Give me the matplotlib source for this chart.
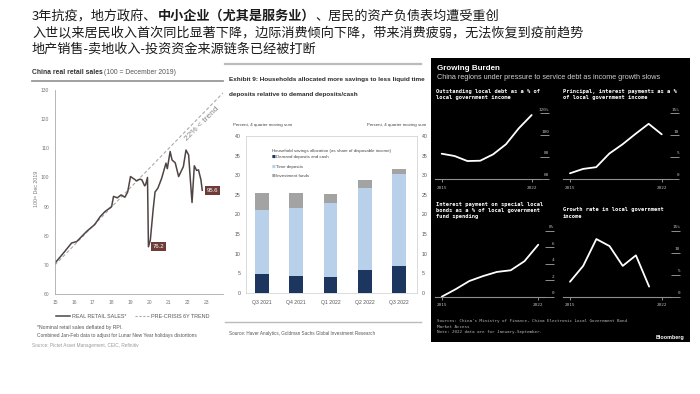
import matplotlib
matplotlib.use('Agg')
import matplotlib.pyplot as plt
from matplotlib import font_manager as fm
from matplotlib.transforms import blended_transform_factory, ScaledTranslation
from matplotlib.patches import Rectangle
from matplotlib.lines import Line2D

# ---------------- data ----------------
retail_x = [15.0, 15.44, 15.88, 16.15, 16.68, 17.1, 17.4, 17.65, 17.8, 18.0, 18.1, 18.3,
            18.5, 18.7, 18.85, 19.0, 19.25, 19.3, 19.5, 19.6, 19.75, 19.8, 19.9, 19.95,
            20.05, 20.2, 20.3, 20.45, 20.65, 20.88, 20.95, 21.1, 21.2, 21.37, 21.55, 21.63,
            21.8, 21.94, 22.08, 22.17, 22.26, 22.38, 22.5, 22.6, 22.73, 22.8]
retail_y = [70.6, 74.0, 77.5, 78.0, 81.5, 83.8, 86.6, 88.3, 89.0, 90.0, 93.5, 93.0,
            94.0, 93.2, 95.0, 100.3, 99.2, 98.8, 99.4, 99.2, 97.1, 97.5, 100.0, 76.2,
            78.5, 89.0, 95.0, 96.3, 99.7, 104.9, 103.0, 108.9, 106.0, 105.0, 100.3, 101.4,
            103.7, 109.4, 107.7, 99.2, 91.4, 104.0, 102.4, 102.6, 99.2, 95.6]
trend_x = [15.0, 23.9]
trend_y = [70.0, 129.0]
retail_xticks = [15, 16, 17, 18, 19, 20, 21, 22, 23]
retail_yticks = [60, 70, 80, 90, 100, 110, 120, 130]
retail_low = 76.2
retail_last = 95.6

gs_quarters = ['Q3 2021', 'Q4 2021', 'Q1 2022', 'Q2 2022', 'Q3 2022']
gs_demand = [4.7, 4.2, 4.0, 5.7, 6.8]
gs_time = [16.3, 17.3, 18.8, 21.0, 23.6]
gs_funds = [4.4, 3.9, 2.5, 2.0, 1.2]
gs_yticks = [0, 5, 10, 15, 20, 25, 30, 35, 40]

bb_years = [2015, 2016, 2017, 2018, 2019, 2020, 2021, 2022]
bb_debt = [83.1, 81.0, 76.4, 76.7, 82.5, 91.7, 106.3, 118.4]
bb_payments = [1.3, 2.3, 2.7, 5.8, 7.9, 10.3, 12.6, 10.2]
bb_special = [0.0, 0.9, 1.9, 2.5, 3.0, 3.2, 4.3, 6.3]
bb_growth_years = [2015, 2016, 2017, 2018, 2019, 2020, 2021]
bb_growth = [3.4, 7.0, 13.1, 11.5, 7.0, 9.4, 2.3]

# ---------------- setup ----------------
W, H = 700, 394
fig = plt.figure(figsize=(7, 3.94), dpi=100)
fig.patch.set_facecolor('white')
renderer = fig.canvas.get_renderer()

names = {f.name for f in fm.fontManager.ttflist}
NARROW = 'Liberation Sans Narrow' if 'Liberation Sans Narrow' in names else 'Liberation Sans'
SANS = 'Liberation Sans'
MONO = 'DejaVu Sans Mono'
CJK = ['Noto Sans CJK SC', 'DejaVu Sans']


def rect(x0, y0, x1, y1):
    return [x0 / W, 1 - y1 / H, (x1 - x0) / W, (y1 - y0) / H]


def ftxt(x, y, s, **kw):
    kw.setdefault('va', 'center')
    kw.setdefault('ha', 'left')
    return fig.text(x / W, 1 - y / H, s, **kw)


def fit(t, width_px):
    bb = t.get_window_extent(renderer)
    t.set_fontsize(t.get_fontsize() * width_px / bb.width)
    return t


def hrule(x0, x1, y, color, lw):
    fig.add_artist(Line2D([x0 / W, x1 / W], [1 - y / H, 1 - y / H],
                          transform=fig.transFigure, color=color, lw=lw))


# ---------------- Chinese header ----------------
x = 32
for s, w in [("3年抗疫，地方政府、", 'normal'), ("中小企业（尤其是服务业）", 'bold'),
             ("、居民的资产负债表均遭受重创", 'normal')]:
    t = ftxt(x, 16, s, family=CJK, fontsize=9.45, fontweight=w, color='#1a1a1a')
    x += t.get_window_extent(renderer).width
ftxt(32, 33, "入世以来居民收入首次同比显著下降，边际消费倾向下降，带来消费疲弱，无法恢复到疫前趋势",
     family=CJK, fontsize=9.45, color='#1a1a1a')
ftxt(32, 49, "地产销售-卖地收入-投资资金来源链条已经被打断", family=CJK, fontsize=9.45, color='#1a1a1a')

# ---------------- Left chart (Pictet) ----------------
t1 = fit(ftxt(32, 73, "China real retail sales", family=NARROW, fontweight='bold',
              fontsize=6, color='#333333'), 71)
ftxt(32 + t1.get_window_extent(renderer).width + 1.5, 73, "(100 = December 2019)",
     family=NARROW, fontsize=t1.get_fontsize(), color='#555555')
hrule(32, 223, 80.7, '#999999', 1.3)

axL = fig.add_axes(rect(55, 90, 223, 294))
axL.plot(trend_x, trend_y, color='#aaaaaa', lw=0.8, ls=(0, (3, 2)))
axL.plot(retail_x, retail_y, color='#4f4444', lw=1.1)
axL.set_xlim(15, 23.9)
axL.set_ylim(60, 130)
axL.set_xticks(retail_xticks)
axL.set_yticks(retail_yticks)
axL.set_xticklabels([str(v) for v in retail_xticks])
for s in ['top', 'right']:
    axL.spines[s].set_visible(False)
for s in ['left', 'bottom']:
    axL.spines[s].set_color('#aaaaaa')
    axL.spines[s].set_linewidth(0.6)
axL.tick_params(length=0, labelsize=3.6, labelcolor='#777777', pad=4)
for lab in axL.get_xticklabels() + axL.get_yticklabels():
    lab.set_family(NARROW)
axL.text(20.5, retail_low, f"{retail_low}", color='white', fontsize=4.3, ha='center', va='center',
         family=NARROW, bbox=dict(boxstyle='square,pad=0.3', fc='#6e3b36', ec='none'))
axL.text(23.35, retail_last, f"{retail_last}", color='white', fontsize=4.3, ha='center', va='center',
         family=NARROW, bbox=dict(boxstyle='square,pad=0.3', fc='#6e3b36', ec='none'))
axL.text(22.8, 118.5, "22% < trend", color='#888888', fontsize=6, rotation=45,
         ha='center', va='center', family=NARROW)
ftxt(36, 189, "100= Dec 2019", rotation=90, family=NARROW, fontsize=3.8, color='#777777', ha='center')

leg = axL.legend(handles=[Line2D([], [], color='#4f4444', lw=1.1),
                          Line2D([], [], color='#aaaaaa', lw=0.8, ls=(0, (2, 1.5)))],
                 labels=['REAL RETAIL SALES*', 'PRE-CRISIS 6Y TREND'],
                 loc='center left', bbox_to_anchor=(56 / W, 1 - 316.5 / H), bbox_transform=fig.transFigure,
                 ncol=2, frameon=False, handlelength=2.6, handletextpad=0.3,
                 columnspacing=1.6, borderpad=0, borderaxespad=0,
                 prop={'family': NARROW, 'size': 3.9})
for t in leg.get_texts():
    t.set_color('#555555')
fit(ftxt(37, 327.7, "*Nominal retail sales deflated by RPI.", family=NARROW, fontsize=4, color='#555555'), 83)
fit(ftxt(37, 336, "Combined Jan-Feb data to adjust for Lunar New Year holidays distortions",
         family=NARROW, fontsize=4, color='#555555'), 158)
fit(ftxt(32, 345.3, "Source: Pictet Asset Management, CEIC, Refinitiv", family=NARROW, fontsize=4,
         color='#9a9a9a'), 103)

# ---------------- Middle chart (Goldman) ----------------
hrule(225, 421, 64, '#bbbbbb', 1.6)
tg = fit(ftxt(229, 80, "Exhibit 9: Households allocated more savings to less liquid time",
              family=NARROW, fontweight='bold', fontsize=7, color='#2a2a2a'), 197)
ftxt(229, 94.3, "deposits relative to demand deposits/cash", family=NARROW, fontweight='bold',
     fontsize=tg.get_fontsize(), color='#2a2a2a')
tp = fit(ftxt(233, 125, "Percent, 4 quarter moving sum", family=NARROW, fontsize=4, color='#444444'), 60)
ftxt(367, 125, "Percent, 4 quarter moving sum", family=NARROW, fontsize=tp.get_fontsize(), color='#444444')

NAVY, LBLUE, GREY = '#1d3660', '#b8d0ea', '#a3a3a3'
axG = fig.add_axes(rect(245.7, 136, 417, 292.7))
xpos = list(range(len(gs_quarters)))
bottom2 = [a + b for a, b in zip(gs_demand, gs_time)]
axG.bar(xpos, gs_demand, width=0.39, color=NAVY)
axG.bar(xpos, gs_time, width=0.39, bottom=gs_demand, color=LBLUE)
axG.bar(xpos, gs_funds, width=0.39, bottom=bottom2, color=GREY)
axG.set_xlim(-0.47, 4.52)
axG.set_ylim(0, 40)
axG.set_yticks(gs_yticks)
axG.set_xticks(xpos)
axG.set_xticklabels(gs_quarters)
for s in axG.spines.values():
    s.set_color('#d4d4d4')
    s.set_linewidth(0.6)
axG.tick_params(axis='y', length=0, labelsize=3.7, labelcolor='#555555', pad=3.5,
                labelleft=True, labelright=True)
axG.tick_params(axis='x', length=0, labelsize=3.7, labelcolor='#555555', pad=5.5)
for lab in axG.get_xticklabels() + axG.get_yticklabels():
    lab.set_family(NARROW)
for tk in axG.yaxis.get_major_ticks():
    tk.label2.set_family(NARROW)

tl = fit(ftxt(272, 150.7, "Household savings allocation (as share of disposable income)",
              family=NARROW, fontsize=4, color='#444444'), 120)
lfs = tl.get_fontsize()
for yy, col, lab in [(157.3, NAVY, "Demand deposits and cash"), (166.7, LBLUE, "Time deposits"),
                     (175.7, GREY, "Investment funds")]:
    ftxt(271.5, yy, "■", family='DejaVu Sans', fontsize=lfs * 0.9, color=col)
    ftxt(275.5, yy, lab, family=NARROW, fontsize=lfs, color='#444444')
hrule(225, 421, 321.7, '#bbbbbb', 1.0)
fit(ftxt(229, 333.3, "Source: Haver Analytics, Goldman Sachs Global Investment Research",
         family=NARROW, fontsize=4, color='#555555'), 143)

# ---------------- Right panel (Bloomberg) ----------------
fig.add_artist(Rectangle((431 / W, 1 - 342 / H), (690 - 431) / W, (342 - 58) / H,
                         transform=fig.transFigure, facecolor='black', edgecolor='none', zorder=-1))
fit(ftxt(436.7, 69, "Growing Burden", family=SANS, fontweight='bold', fontsize=6, color='white'), 64)
fit(ftxt(436.7, 77.7, "China regions under pressure to service debt as income growth slows",
         family=SANS, fontsize=5, color='#cfcfcf'), 229)

TICKC = '#8f8f8f'
LABC = '#bdbdbd'


def bb_axes(r, xlim, ylim, yticks, ylabels, xs, ys, title, title_xy):
    ax = fig.add_axes(rect(*r))
    ax.set_facecolor('none')
    ax.plot(xs, ys, color='white', lw=1.3, solid_joinstyle='round', solid_capstyle='round')
    ax.set_xlim(*xlim)
    ax.set_ylim(*ylim)
    for s in ['top', 'right', 'left']:
        ax.spines[s].set_visible(False)
    ax.spines['bottom'].set_color(TICKC)
    ax.spines['bottom'].set_linewidth(0.8)
    ax.yaxis.tick_right()
    ax.set_yticks(yticks)
    ax.tick_params(axis='y', direction='out', length=6.5, width=0.7, color=TICKC,
                   labelright=False, labelleft=False)
    tr = blended_transform_factory(ax.transAxes, ax.transData) + \
        ScaledTranslation(6.5 / 72, 1.2 / 72, fig.dpi_scale_trans)
    for v, lab in zip(yticks, ylabels):
        ax.text(1, v, lab, transform=tr, ha='right', va='bottom', family=MONO,
                fontsize=3.2, color=LABC)
    ax.set_xticks([2015, 2022])
    ax.set_xticklabels(['2015', '2022'])
    ax.tick_params(axis='x', direction='out', length=2.2, width=0.7, color=TICKC,
                   labelsize=3.2, labelcolor=LABC, pad=2.5)
    for lab in ax.get_xticklabels():
        lab.set_family(MONO)
    ftxt(title_xy[0], title_xy[1], title, family=MONO, fontweight='bold', fontsize=3.9,
         color='white', va='top', linespacing=1.25)
    return ax


bb_axes((435, 111.1, 540, 179), (2014.48, 2022.65), (60, 122), [60, 80, 100, 120],
        ['60', '80', '100', '120%'], bb_years, bb_debt,
        "Outstanding local debt as a % of\nlocal government income", (436, 89.5))
bb_axes((563, 111.1, 670, 179), (2014.47, 2022.63), (0, 15.5), [0, 5, 10, 15],
        ['0', '5', '10', '15%'], bb_years, bb_payments,
        "Principal, interest payments as a %\nof local government income", (562.7, 89.5))
bb_axes((435, 228.2, 545, 296.7), (2014.51, 2022.49), (0, 8.3), [0, 2, 4, 6, 8],
        ['0', '2', '4', '6', '8%'], bb_years, bb_special,
        "Interest payment on special local\nbonds as a % of local government\nfund spending", (436, 201.8))
bb_axes((563, 228.5, 671, 296.7), (2014.47, 2022.66), (0, 15.5), [0, 5, 10, 15],
        ['0', '5', '10', '15%'], bb_growth_years, bb_growth,
        "Growth rate in local government\nincome", (562.7, 207.5))

ftxt(436.7, 319.4, "Sources: China's Ministry of Finance, China Electronic Local Government Bond\n"
     "Market Access\nNote: 2022 data are for January-September.", family=MONO, fontsize=3.05,
     color='#b5b5b5', va='top', linespacing=1.45)
fit(ftxt(655.7, 337.7, "Bloomberg", family=SANS, fontweight='bold', fontsize=5, color='white'), 28.6)

fig.savefig('out.png', dpi=100, facecolor='white')
